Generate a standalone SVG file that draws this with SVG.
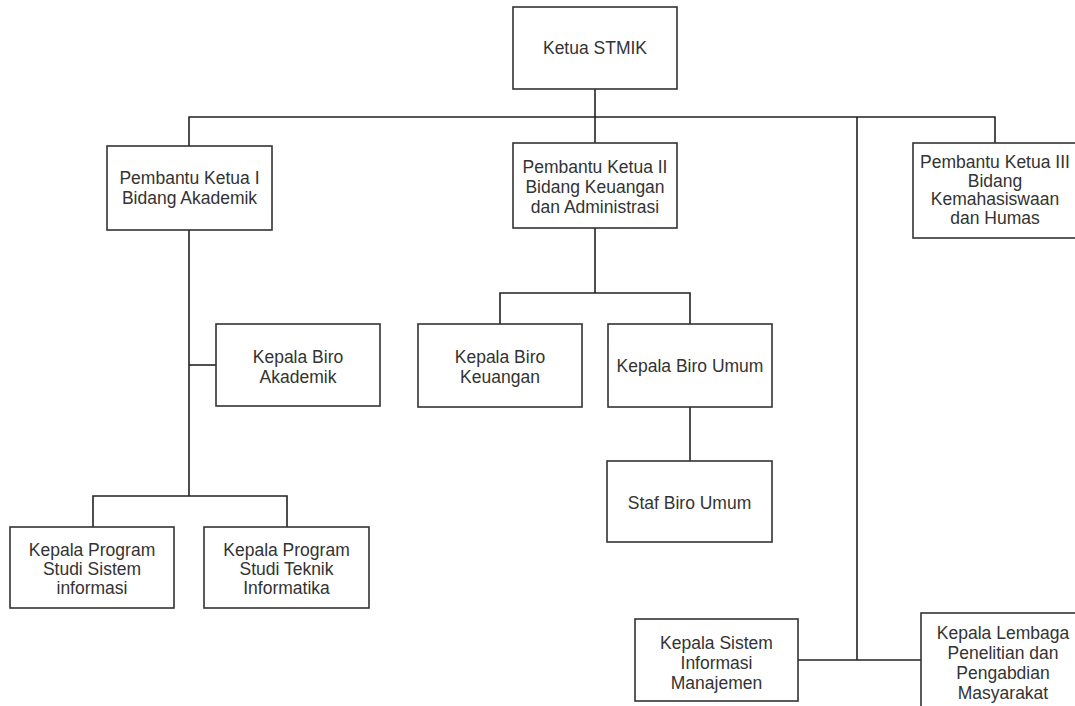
<svg xmlns="http://www.w3.org/2000/svg" width="1075" height="706" viewBox="0 0 1075 706">
  <style>
    .box { fill: #ffffff; stroke: #333333; stroke-width: 1.6; }
    .wire { fill: none; stroke: #222222; stroke-width: 1.6; }
    .lbl { font-family: "Liberation Sans", Arial, sans-serif; font-size: 17.5px; fill: #333333; text-anchor: middle; }
  </style>
  <rect width="1075" height="706" fill="#ffffff"/>

  <!-- connectors -->
  <g id="connectors">
    <path class="wire" d="M595 89 V143"/>
    <path class="wire" d="M189 146 V117 H995 V143"/>
    <path class="wire" d="M857 117 V660"/>
    <path class="wire" d="M798 660 H921"/>
    <path class="wire" d="M189 230 V496"/>
    <path class="wire" d="M189 365 H216"/>
    <path class="wire" d="M93 527 V496 H287 V527"/>
    <path class="wire" d="M595 228 V293"/>
    <path class="wire" d="M500 324 V293 H690 V324"/>
    <path class="wire" d="M690 407 V461"/>
  </g>

  <g id="ketua">
    <rect class="box" x="513" y="7" width="164" height="82"/>
    <text class="lbl" x="595" y="54">Ketua STMIK</text>
  </g>

  <g id="pk1">
    <rect class="box" x="107" y="146" width="165" height="84"/>
    <text class="lbl" x="189.5" y="184">Pembantu Ketua I</text>
    <text class="lbl" x="189.5" y="204">Bidang Akademik</text>
  </g>

  <g id="pk2">
    <rect class="box" x="513" y="143" width="164" height="85"/>
    <text class="lbl" x="595" y="173">Pembantu Ketua II</text>
    <text class="lbl" x="595" y="193">Bidang Keuangan</text>
    <text class="lbl" x="595" y="213">dan Administrasi</text>
  </g>

  <g id="pk3">
    <rect class="box" x="913" y="143" width="166" height="95"/>
    <text class="lbl" x="995" y="168">Pembantu Ketua III</text>
    <text class="lbl" x="995" y="187">Bidang</text>
    <text class="lbl" x="995" y="205">Kemahasiswaan</text>
    <text class="lbl" x="995" y="224">dan Humas</text>
  </g>

  <g id="biro-akademik">
    <rect class="box" x="216" y="324" width="164" height="82"/>
    <text class="lbl" x="298" y="363">Kepala Biro</text>
    <text class="lbl" x="298" y="383">Akademik</text>
  </g>

  <g id="biro-keuangan">
    <rect class="box" x="418" y="324" width="164" height="83"/>
    <text class="lbl" x="500" y="363">Kepala Biro</text>
    <text class="lbl" x="500" y="383">Keuangan</text>
  </g>

  <g id="biro-umum">
    <rect class="box" x="608" y="324" width="164" height="83"/>
    <text class="lbl" x="690" y="372">Kepala Biro Umum</text>
  </g>

  <g id="staf-biro-umum">
    <rect class="box" x="607" y="461" width="165" height="81"/>
    <text class="lbl" x="689.5" y="509">Staf Biro Umum</text>
  </g>

  <g id="prodi-si">
    <rect class="box" x="10" y="527" width="164" height="81"/>
    <text class="lbl" x="92" y="556">Kepala Program</text>
    <text class="lbl" x="92" y="575">Studi Sistem</text>
    <text class="lbl" x="92" y="594">informasi</text>
  </g>

  <g id="prodi-ti">
    <rect class="box" x="204" y="527" width="165" height="81"/>
    <text class="lbl" x="286.5" y="556">Kepala Program</text>
    <text class="lbl" x="286.5" y="575">Studi Teknik</text>
    <text class="lbl" x="286.5" y="594">Informatika</text>
  </g>

  <g id="ksim">
    <rect class="box" x="635" y="619" width="163" height="82"/>
    <text class="lbl" x="716.5" y="649">Kepala Sistem</text>
    <text class="lbl" x="716.5" y="669">Informasi</text>
    <text class="lbl" x="716.5" y="689">Manajemen</text>
  </g>

  <g id="lppm">
    <rect class="box" x="921" y="613" width="166" height="100"/>
    <text class="lbl" x="1003" y="639">Kepala Lembaga</text>
    <text class="lbl" x="1003" y="659">Penelitian dan</text>
    <text class="lbl" x="1003" y="679">Pengabdian</text>
    <text class="lbl" x="1003" y="699">Masyarakat</text>
  </g>
</svg>
